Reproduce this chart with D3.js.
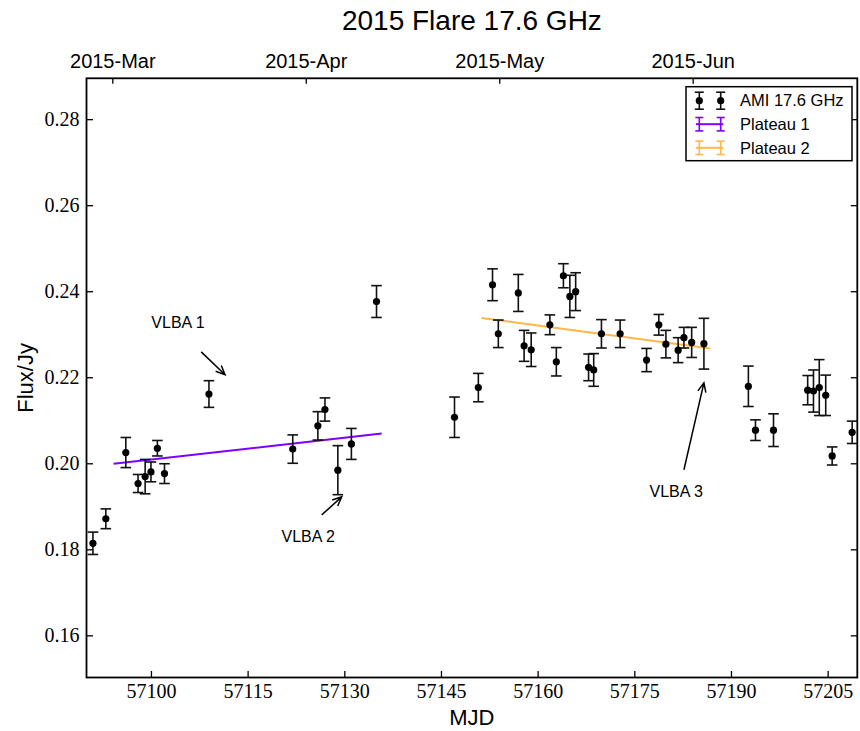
<!DOCTYPE html>
<html>
<head>
<meta charset="utf-8">
<script src="https://cdn.jsdelivr.net/npm/d3@7"></script>
<style>
  body { margin: 0; background: white; }
  .tick text { font-family: "Liberation Serif", "DejaVu Serif", serif; font-size: 20px; fill: black; }
  .top.axis .tick text { font-family: "Liberation Sans", Arial, sans-serif; }
  .tick line { stroke: black; stroke-width: 1.3; }
</style>
</head>
<body>
<div class="main_contain"></div>
<script>
// AMI 17.6 GHz light curve
var mjd = [57091.0, 57093.0, 57096.1, 57098.0, 57099.1, 57100.0, 57101.0, 57102.1,
           57109.0, 57122.0, 57125.9, 57127.0, 57129.0, 57131.1, 57135.0,
           57147.1, 57150.8, 57153.0, 57153.9, 57157.0, 57157.9, 57159.0, 57161.9,
           57162.9, 57164.0, 57165.0, 57165.9, 57167.9, 57168.7, 57169.9, 57172.8,
           57176.9, 57178.8, 57179.9, 57181.8, 57182.7, 57183.9, 57185.8,
           57192.7, 57193.8, 57196.6, 57201.9, 57202.8, 57203.7, 57204.7, 57205.7, 57208.8];
var flux = [0.1814, 0.1871, 0.2025, 0.1953, 0.1969, 0.1980, 0.2035, 0.1976,
            0.2161, 0.2033, 0.2087, 0.2125, 0.1984, 0.2045, 0.2376,
            0.2107, 0.2176, 0.2415, 0.2301, 0.2396, 0.2273, 0.2264, 0.2322,
            0.2236, 0.2436, 0.2388, 0.2399, 0.2223, 0.2217, 0.2301, 0.2301,
            0.2240, 0.2322, 0.2277, 0.2263, 0.2292, 0.2281, 0.2278,
            0.2179, 0.2077, 0.2077, 0.2170, 0.2168, 0.2176, 0.2158, 0.2017, 0.2072];
var fluxErr = [0.0026, 0.0023, 0.0035, 0.0021, 0.0040, 0.0023, 0.0018, 0.0023,
               0.0031, 0.0033, 0.0033, 0.0027, 0.0057, 0.0036, 0.0037,
               0.0047, 0.0033, 0.0037, 0.0032, 0.0043, 0.0036, 0.0039, 0.0023,
               0.0033, 0.0028, 0.0049, 0.0044, 0.0031, 0.0038, 0.0033, 0.0032,
               0.0027, 0.0024, 0.0032, 0.0029, 0.0024, 0.0035, 0.0059,
               0.0047, 0.0024, 0.0038, 0.0034, 0.0049, 0.0065, 0.0047, 0.0021, 0.0026];

// plateau fits (start/end)
var plateau1Mjd = [57094.2, 57135.8];
var plateau1Flux = [0.1999, 0.2069];
var plateau2Mjd = [57151.3, 57186.8];
var plateau2Flux = [0.2338, 0.2267];

// VLBA epochs: text position, arrow tail, arrow head (MJD, flux)
var vlbaLabels = ["VLBA 1", "VLBA 2", "VLBA 3"];
var vlbaText = [[57104.2, 0.2327], [57124.4, 0.1831], [57181.5, 0.1934]];
var vlbaTail = [[57107.8, 0.2259], [57126.5, 0.1880], [57182.7, 0.1985]];
var vlbaHead = [[57111.5, 0.2206], [57129.6, 0.1922], [57185.8, 0.2187]];

var xTicks = [57100, 57115, 57130, 57145, 57160, 57175, 57190, 57205];
var yTicks = [0.16, 0.18, 0.20, 0.22, 0.24, 0.26, 0.28];
var topMonths = ["2015-Mar", "2015-Apr", "2015-May", "2015-Jun"];
var legendLabels = ["AMI 17.6 GHz", "Plateau 1", "Plateau 2"];

var purple = "#7f00ff";
var orange = "#ffb74a";

function drawFlareChart(container){
  var svg_width = 860;
  var svg_height = 731;
  var margins = { top: 78.3, bottom: 53.5, right: 2.7, left: 86.5 };
  var height = svg_height - margins.top - margins.bottom;
  var width = svg_width - margins.left - margins.right;

  var svg = d3.select(container)
              .append("svg")
              .attr("width", svg_width)
              .attr("height", svg_height);

  var svg_g = svg.append("g")
                 .attr("transform", "translate(" + margins.left + "," + margins.top + ")");

  var x = d3.scaleLinear()
            .domain([57090, 57209.6])
            .range([0, width]);

  var y = d3.scaleLinear()
            .domain([0.1502, 0.2895])
            .range([height, 0]);

  // month labels on top sit on evenly spaced ticks
  var xTop = d3.scalePoint()
               .domain(topMonths)
               .range([112.3 - margins.left, 692.7 - margins.left]);

  var sans = "'Liberation Sans', Arial, Helvetica, sans-serif";

  // axes, ticks pointing inward
  svg_g.append("g")
      .attr("class", "x axis")
      .attr("transform", "translate(0," + height + ")")
      .call(d3.axisBottom(x).tickValues(xTicks).tickFormat(d3.format("d"))
              .tickSizeInner(-6.5).tickSizeOuter(0).tickPadding(6))
      .call(g => g.select(".domain").remove());

  svg_g.append("g")
      .attr("class", "top axis")
      .call(d3.axisTop(xTop).tickSizeInner(-5.5).tickSizeOuter(0).tickPadding(10))
      .call(g => g.select(".domain").remove());

  svg_g.append("g")
      .attr("class", "y axis left")
      .call(d3.axisLeft(y).tickValues(yTicks).tickFormat(d3.format(".2f"))
              .tickSizeInner(-6.5).tickSizeOuter(0).tickPadding(7))
      .call(g => g.select(".domain").remove());

  svg_g.append("g")
      .attr("class", "y axis right")
      .attr("transform", "translate(" + width + ",0)")
      .call(d3.axisRight(y).tickValues(yTicks).tickFormat("")
              .tickSizeInner(-6.5).tickSizeOuter(0))
      .call(g => g.select(".domain").remove());

  // plateau lines
  var line = d3.line().x(d => x(d[0])).y(d => y(d[1]));
  svg_g.append("path")
      .datum(d3.zip(plateau1Mjd, plateau1Flux))
      .attr("d", line)
      .style("fill", "none")
      .style("stroke", purple)
      .style("stroke-width", 2);
  svg_g.append("path")
      .datum(d3.zip(plateau2Mjd, plateau2Flux))
      .attr("d", line)
      .style("fill", "none")
      .style("stroke", orange)
      .style("stroke-width", 2);

  // error bars
  var data = mjd.map((m, i) => ({ mjd: m, flux: flux[i], err: fluxErr[i] }));
  var capW = 5.3;
  var bars = svg_g.append("g").attr("class", "errorbars")
                  .selectAll("g")
                  .data(data)
                  .enter()
                  .append("g")
                  .style("stroke", "#111")
                  .style("stroke-width", 1.6);
  bars.append("line")
      .attr("x1", d => x(d.mjd)).attr("x2", d => x(d.mjd))
      .attr("y1", d => y(d.flux - d.err)).attr("y2", d => y(d.flux + d.err));
  bars.append("line")
      .attr("x1", d => x(d.mjd) - capW).attr("x2", d => x(d.mjd) + capW)
      .attr("y1", d => y(d.flux + d.err)).attr("y2", d => y(d.flux + d.err));
  bars.append("line")
      .attr("x1", d => x(d.mjd) - capW).attr("x2", d => x(d.mjd) + capW)
      .attr("y1", d => y(d.flux - d.err)).attr("y2", d => y(d.flux - d.err));

  svg_g.selectAll("circle.pt")
      .data(data)
      .enter()
      .append("circle")
      .attr("class", "pt")
      .attr("cx", d => x(d.mjd))
      .attr("cy", d => y(d.flux))
      .attr("r", 3.6)
      .style("fill", "black");

  // VLBA annotations
  vlbaLabels.forEach(function(lab, i){
    svg_g.append("text")
        .attr("x", x(vlbaText[i][0]))
        .attr("y", y(vlbaText[i][1]))
        .attr("dy", "0.35em")
        .attr("text-anchor", "middle")
        .style("font-family", sans)
        .style("font-size", "16px")
        .text(lab);

    var x1 = x(vlbaTail[i][0]), y1 = y(vlbaTail[i][1]);
    var x2 = x(vlbaHead[i][0]), y2 = y(vlbaHead[i][1]);
    var ang = Math.atan2(y2 - y1, x2 - x1);
    var hl = 10, ha = 0.42;
    svg_g.append("path")
        .attr("d", "M" + x1 + "," + y1 + "L" + x2 + "," + y2 +
                   "M" + (x2 - hl * Math.cos(ang - ha)) + "," + (y2 - hl * Math.sin(ang - ha)) +
                   "L" + x2 + "," + y2 +
                   "L" + (x2 - hl * Math.cos(ang + ha)) + "," + (y2 - hl * Math.sin(ang + ha)))
        .style("fill", "none")
        .style("stroke", "black")
        .style("stroke-width", 1.5);
  });

  // frame
  svg_g.append("rect")
      .attr("width", width)
      .attr("height", height)
      .style("fill", "none")
      .style("stroke", "black")
      .style("stroke-width", 1.8);

  // legend
  var leg = svg.append("g").attr("class", "legend");
  leg.append("rect")
      .attr("x", 686).attr("y", 86.7)
      .attr("width", 166).attr("height", 74)
      .style("fill", "white")
      .style("stroke", "black")
      .style("stroke-width", 1.5);
  var rowY = [100.7, 124.2, 147.8];
  var symX = [699.3, 720.7];
  var legColors = ["#111", purple, orange];
  legendLabels.forEach(function(lab, i){
    var cy = rowY[i];
    var g = leg.append("g").style("stroke", legColors[i]).style("stroke-width", 1.6);
    var hh = i == 0 ? 8.5 : 6.7;
    var cw = i == 0 ? 4.5 : 4;
    if (i > 0) {
      g.append("line").attr("x1", 696).attr("x2", 723.3).attr("y1", cy).attr("y2", cy)
       .style("stroke-width", 2);
    }
    symX.forEach(function(sx){
      g.append("line").attr("x1", sx).attr("x2", sx).attr("y1", cy - hh).attr("y2", cy + hh);
      g.append("line").attr("x1", sx - cw).attr("x2", sx + cw).attr("y1", cy - hh).attr("y2", cy - hh);
      g.append("line").attr("x1", sx - cw).attr("x2", sx + cw).attr("y1", cy + hh).attr("y2", cy + hh);
      if (i == 0) {
        leg.append("circle").attr("cx", sx).attr("cy", cy).attr("r", 3.6).style("fill", "black");
      }
    });
    leg.append("text")
        .attr("x", 740)
        .attr("y", cy)
        .attr("dy", "0.35em")
        .style("font-family", sans)
        .style("font-size", "16.5px")
        .text(lab);
  });

  // titles
  svg.append("text")
      .attr("x", margins.left + width / 2)
      .attr("y", 30)
      .attr("text-anchor", "middle")
      .style("font-family", sans)
      .style("font-size", "28px")
      .text("2015 Flare 17.6 GHz");

  svg.append("text")
      .attr("x", margins.left + width / 2)
      .attr("y", 725)
      .attr("text-anchor", "middle")
      .style("font-family", sans)
      .style("font-size", "22px")
      .text("MJD");

  svg.append("text")
      .attr("transform", "translate(33," + (margins.top + height / 2) + ") rotate(-90)")
      .attr("text-anchor", "middle")
      .style("font-family", sans)
      .style("font-size", "22px")
      .text("Flux/Jy");
}

drawFlareChart(".main_contain");
</script>
</body>
</html>
